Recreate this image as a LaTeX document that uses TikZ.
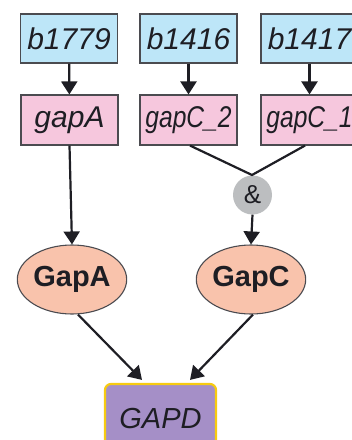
\documentclass[tikz,border=0pt]{standalone}
\usepackage{fontspec}
\setmainfont{Liberation Sans}
\usetikzlibrary{arrows.meta,shapes.geometric,calc}
\definecolor{genebox}{HTML}{BDE6F8}
\definecolor{rnabox}{HTML}{F6C7DD}
\definecolor{protfill}{HTML}{F9C3AC}
\definecolor{andfill}{HTML}{BCBEC0}
\definecolor{cplxfill}{HTML}{A58FC7}
\definecolor{cplxline}{HTML}{F7CB10}
\definecolor{ink}{HTML}{1E1E24}
\tikzset{
  genenode/.style={draw=ink!80,line width=1.1pt,fill=genebox,minimum width=97pt,minimum height=49pt,inner sep=0pt,font=\fontsize{30}{30}\selectfont\itshape,text=ink},
  rnanode/.style={draw=ink!80,line width=1.1pt,fill=rnabox,minimum width=97pt,minimum height=50pt,inner sep=0pt,font=\fontsize{30}{30}\selectfont\itshape,text=ink},
  protnode/.style={ellipse,draw=ink!80,line width=1.1pt,fill=protfill,minimum width=94pt,minimum height=69pt,inner sep=0pt,font=\fontsize{29}{29}\selectfont\bfseries,text=ink},
  andnode/.style={circle,fill=andfill,minimum size=39pt,inner sep=0pt,font=\fontsize{26}{26}\selectfont,text=ink},
  cplxnode/.style={draw=cplxline,line width=2.2pt,fill=cplxfill,rounded corners=6pt,minimum width=111pt,minimum height=70pt,inner sep=0pt,font=\fontsize{29}{29}\selectfont\itshape,text=ink},
  arr/.style={draw=ink,line width=2.2pt,-{Triangle[width=16pt,length=13pt]}},
  ln/.style={draw=ink,line width=2.2pt}
}
\begin{document}
\begin{tikzpicture}[x=1pt,y=-1pt]
\useasboundingbox (0,0) rectangle (352,440);
\clip (0,0) rectangle (352,440);
\node[genenode] (g1) at (69,38.5) {b1779};
\node[genenode] (g2) at (188.5,38.5) {b1416};
\node[genenode] (g3) at (309.5,38.5) {b1417};
\node[rnanode] (r1) at (69.5,120) {gapA};
\node[rnanode] (r2) at (188.5,120) {\scalebox{0.82}[1]{gapC\_2}};
\node[rnanode] (r3) at (309.5,120) {\scalebox{0.82}[1]{gapC\_1}};
\node[andnode] (and) at (252.5,195) {\&};
\node[protnode] (p1) at (72,279.5) {GapA};
\node[protnode] (p2) at (251,279.5) {GapC};
\node[cplxnode] (c) at (160.5,419) {GAPD};
\coordinate (andtop) at (252,175);
\draw[arr] (g1) -- (r1);
\draw[arr] (g2) -- (r2);
\draw[arr] (g3) -- (r3);
\draw[arr] (r1.south) -- (p1.north);
\draw[ln] ($(r2.south)+(1.5,0)$) -- (andtop) -- ($(r3.south)+(-4.5,0)$);
\draw[arr] (and.south) -- (p2.north);
\draw[arr] ($(p1.south)+(6,0)$) -- ($(c.north)+(-18.5,-3)$);
\draw[arr] ($(p2.south)+(2,0)$) -- ($(c.north)+(29.5,-3)$);
\end{tikzpicture}
\end{document}
